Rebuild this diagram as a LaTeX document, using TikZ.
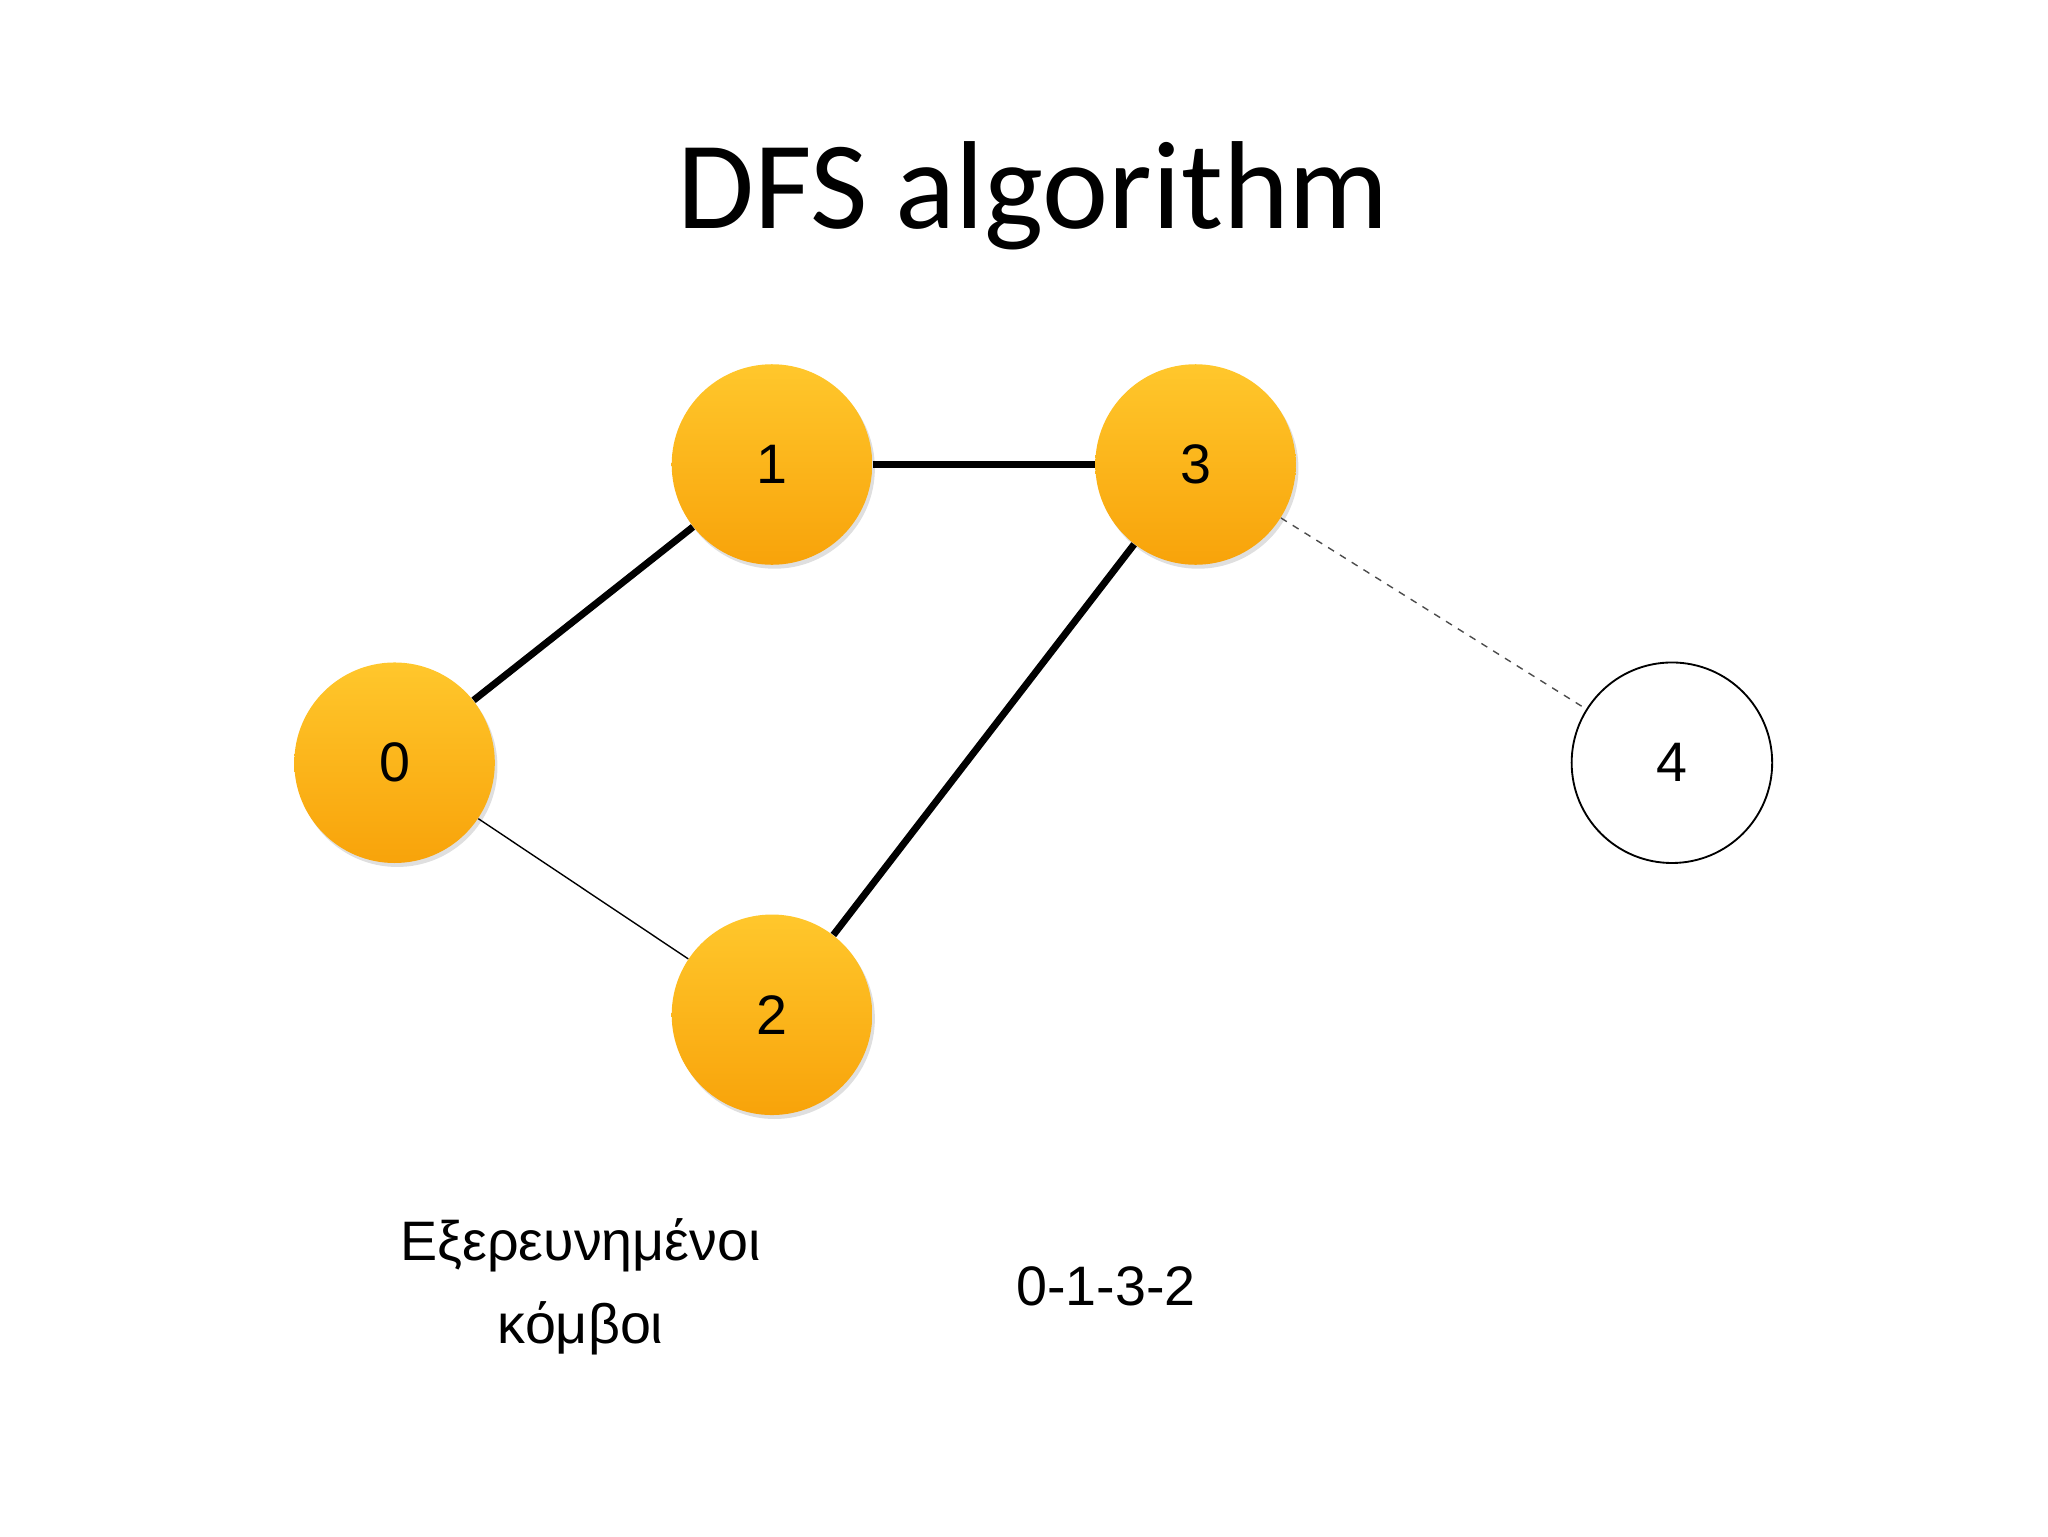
\documentclass[tikz,border=0pt]{standalone}
\usepackage{fontspec}
\setmainfont{Liberation Sans}
\newfontfamily\titlefont{Carlito}
\usetikzlibrary{shadows}
\definecolor{otop}{HTML}{FFC72C}
\definecolor{obot}{HTML}{F8A30A}
\begin{document}
\begin{tikzpicture}[x=0.02cm,y=-0.02cm,
  vis/.style={circle,minimum size=3.04cm,inner sep=0pt,top color=otop,bottom color=obot,draw=none,
    drop shadow={shadow xshift=0.04cm,shadow yshift=-0.06cm,opacity=0.25},font=\fontsize{24}{28}\selectfont},
  unv/.style={circle,minimum size=3.04cm,inner sep=0pt,draw=black,line width=0.8pt,fill=white,font=\fontsize{24}{28}\selectfont},
  thick edge/.style={line width=3pt,black},
  thin edge/.style={line width=0.6pt,black},
  dash edge/.style={line width=0.6pt,black!70,dashed}]
\useasboundingbox (0,0) rectangle (1552,1164);
\node (title) at (783,148) {\titlefont\fontsize{54}{60}\selectfont DFS algorithm};
\node[vis] (n0) at (299,578) {0};
\node[vis] (n1) at (585,352) {1};
\node[vis] (n3) at (906,352) {3};
\node[vis] (n2) at (585,769) {2};
\node[unv] (n4) at (1267,578) {4};
\draw[thick edge] (n0) -- (n1);
\draw[thick edge] (n1) -- (n3);
\draw[thick edge] (n3) -- (n2);
\draw[thin edge] (n0) -- (n2);
\draw[dash edge] (n3) -- (n4);
\node[align=center,font=\fontsize{24}{36}\selectfont] (lab) at (440,975) {Εξερευνημένοι\\κόμβοι};
\node[font=\fontsize{24}{28}\selectfont] (seq) at (838,975) {0-1-3-2};
\end{tikzpicture}
\end{document}
